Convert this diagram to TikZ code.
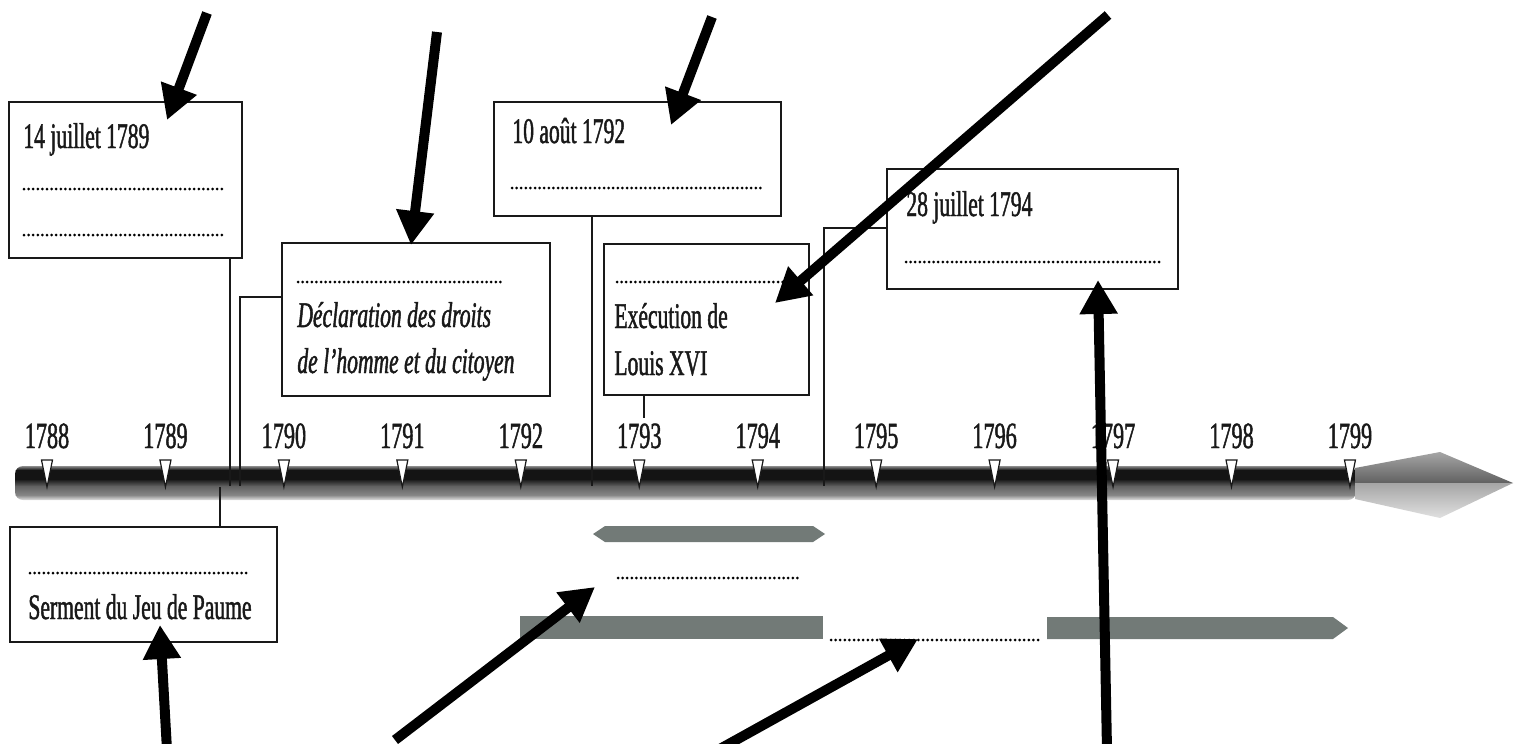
\documentclass[tikz,border=0pt]{standalone}
\usepackage{fontspec}
\setmainfont{Liberation Serif}[FakeStretch=0.6,FakeBold=1.2]
\usetikzlibrary{arrows.meta,fit}
\definecolor{barg}{RGB}{114,122,119}
\definecolor{ink}{RGB}{25,25,25}
\begin{document}
\begin{tikzpicture}[x=0.5pt,y=-0.5pt,
  box/.style={draw=ink, line width=1pt, inner sep=0pt, fill=white},
  lbl/.style={anchor=base west, inner sep=0pt, text=ink, font=\fontsize{18pt}{20pt}\selectfont},
  yr/.style={anchor=base, inner sep=0pt, text=ink, font=\fontsize{18.5pt}{20pt}\selectfont},
  conn/.style={draw=ink, line width=1pt},
  blank/.style={draw=black, line width=1.5pt, line cap=round, dash pattern=on 0pt off 2.3pt},
  pointer/.style={draw=black, line width=5pt, -{Triangle[length=17pt,width=18pt]}},
  band/.style={fill=barg, draw=none},
  tick/.style={fill=white, draw=ink, line width=0.6pt}]
\useasboundingbox (0,0) rectangle (1515,744);

% timeline bar and head
\node[fit={(15,466) (1356,500)}, inner sep=0pt] (bar) {};
\begin{scope}
\clip[rounded corners=4pt] (15,466) rectangle (1356,500);
\shade[top color=black!45, bottom color=black!92] (15,466) rectangle (1356,470);
\fill[black!92] (15,469.8) rectangle (1356,479.2);
\shade[top color=black!92, bottom color=black!62] (15,479) rectangle (1356,486.2);
\shade[top color=black!62, bottom color=black!47] (15,486) rectangle (1356,495.2);
\shade[top color=black!47, bottom color=black!12] (15,495) rectangle (1356,500);
\end{scope}
\shade[top color=black!35, bottom color=black!62] (1355,468) -- (1440,452) -- (1513,483) -- (1355,483) -- cycle;
\shade[top color=black!35, bottom color=black!12] (1355,483) -- (1513,483) -- (1440,518) -- (1355,499) -- cycle;

% connectors to the timeline
\coordinate (c1) at (230,486);
\coordinate (c2) at (240,486);
\coordinate (c3) at (220,487);
\coordinate (c4) at (592,486);
\coordinate (c5) at (644,418);
\coordinate (c6) at (824,486);

% ticks and years
\foreach \i in {0,...,11}{
  \pgfmathsetmacro\tx{47+118.45*\i}
  \pgfmathtruncatemacro\yv{1788+\i}
  \coordinate (tk\i) at (\tx,487);
  \draw[tick] (\tx-5.5,460) -- (\tx+5.5,460) -- (tk\i) -- cycle;
  \node[yr] (yl\i) at (\tx,448) {\yv};
}

% boxes
\node[box, fit={(9,102) (242,258)}] (b1) {};
\node[box, fit={(282,243) (550,396)}] (b2) {};
\node[box, fit={(494,102) (781,216)}] (b3) {};
\node[box, fit={(604,244) (809,395)}] (b4) {};
\node[box, fit={(887,169) (1178,289)}] (b5) {};
\node[box, fit={(10,527) (277,642)}] (b6) {};

\draw[conn] (b1.south -| c1) -- (c1);
\draw[conn] (b2.west |- 0,297) -| (c2);
\draw[conn] (b6.north -| c3) -- (c3);
\draw[conn] (b3.south -| c4) -- (c4);
\draw[conn] (b4.south -| c5) -- (c5);
\draw[conn] (b5.west |- 0,228) -| (c6);

% box texts
\node[lbl] (t1) at (23,148) {14 juillet 1789};
\draw[blank] (24,189) -- (223,189);
\draw[blank] (24,235) -- (223,235);

\draw[blank] (298,282) -- (504,282);
\node[lbl] (t2a) at (297,327) {\itshape Déclaration des droits};
\node[lbl] (t2b) at (297,373) {\itshape de l’homme et du citoyen};

\node[lbl] (t3) at (512,143) {10 août 1792};
\draw[blank] (512,188) -- (761,188);

\draw[blank] (617,282) -- (783,282);
\node[lbl] (t4a) at (614,328) {Exécution de};
\node[lbl] (t4b) at (614,375) {Louis XVI};

\node[lbl] (t5) at (906,216) {28 juillet 1794};
\draw[blank] (906,262) -- (1162,262);

\draw[blank] (30,573) -- (248,573);
\node[lbl] (t6) at (28,619) {Serment du Jeu de Paume};

% period bands
\fill[band] (593,534) -- (605,526) -- (813,526) -- (825,534) -- (813,542) -- (605,542) -- cycle;
\draw[blank] (618,578) -- (798,578);
\fill[band] (520,616) rectangle (823,639);
\draw[blank] (831,640) -- (1040,640);
\fill[band] (1047,617) -- (1333,617) -- (1348,628) -- (1333,639) -- (1047,639) -- cycle;

% black pointers
\coordinate (a1s) at (207,13);   \coordinate (a1e) at (167,120);
\coordinate (a2s) at (437,32);   \coordinate (a2e) at (411,245);
\coordinate (a3s) at (712,17);   \coordinate (a3e) at (671,125);
\coordinate (a4s) at (1108,15);  \coordinate (a4e) at (775,303);
\coordinate (a5s) at (1107,750); \coordinate (a5e) at (1098,280);
\coordinate (a6s) at (167,750);  \coordinate (a6e) at (160,625);
\coordinate (a7s) at (395,740);  \coordinate (a7e) at (595,587);
\coordinate (a8s) at (718,750);  \coordinate (a8e) at (918,639);
\foreach \k in {1,...,8}{ \draw[pointer] (a\k s) -- (a\k e); }
\end{tikzpicture}
\end{document}
